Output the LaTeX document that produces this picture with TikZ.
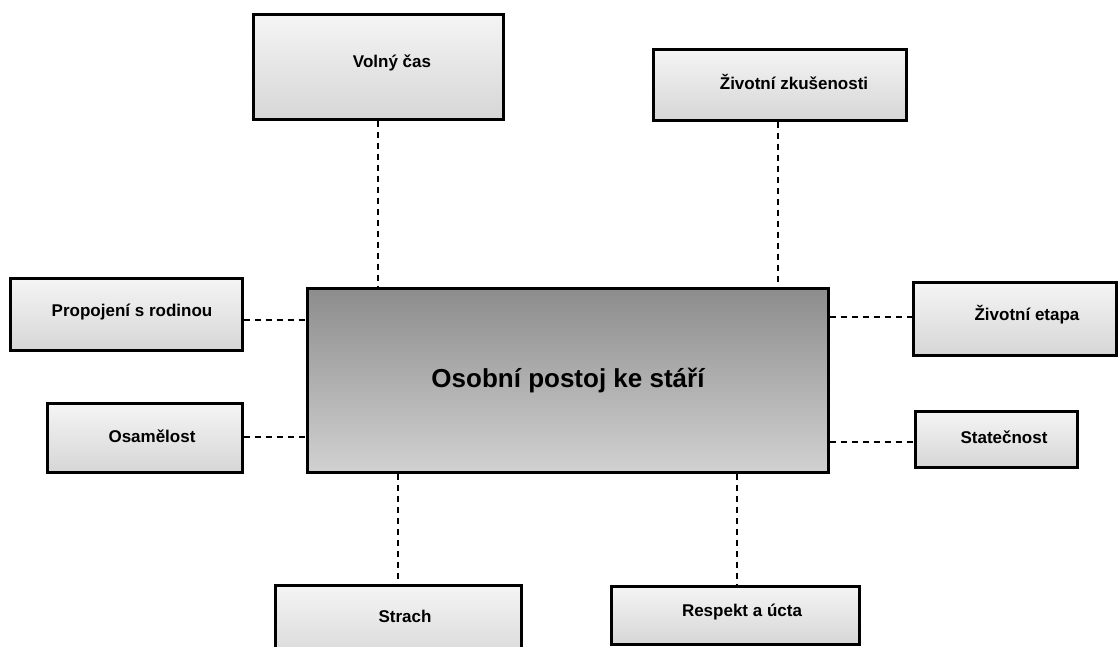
\documentclass[tikz,border=0pt]{standalone}
\usepackage{fontspec}
\setmainfont{Liberation Sans}
\begin{document}
\begin{tikzpicture}[x=1pt,y=-1pt,
  sbox/.style={draw=black, line width=3pt, top color=white!96!black, bottom color=white!84!black, inner sep=0pt},
  mbox/.style={draw=black, line width=3pt, top color=black!45, bottom color=black!18, inner sep=0pt},
  lab/.style={font=\bfseries\fontsize{17}{20}\selectfont, inner sep=0pt},
  mlab/.style={font=\bfseries\fontsize{26}{30}\selectfont, inner sep=0pt},
  conn/.style={draw=black, line width=2.6pt, dash pattern=on 6.5pt off 4.5pt}]
\useasboundingbox (0,0) rectangle (1118,646);
% central
\node[mbox, minimum width=521, minimum height=184] (main) at (567.5,380) {};
\node[mlab] (mt) at (568,380) {Osobní postoj ke stáří};
% boxes
\node[sbox, minimum width=250, minimum height=105] (volny) at (378,66.5) {};
\node[lab] (tvolny) at (392,63) {Volný čas};
\node[sbox, minimum width=253, minimum height=71] (zkus) at (779.5,84.5) {};
\node[lab] (tzkus) at (794,82) {Životní zkušenosti};
\node[sbox, minimum width=232, minimum height=72] (prop) at (126,314) {};
\node[lab] (tprop) at (132,312) {Propojení s rodinou};
\node[sbox, minimum width=195, minimum height=69] (osam) at (144.5,437.5) {};
\node[lab] (tosam) at (152,436) {Osamělost};
\node[sbox, minimum width=203, minimum height=73] (etapa) at (1015,318.5) {};
\node[lab] (tetapa) at (1027,315) {Životní etapa};
\node[sbox, minimum width=162, minimum height=56] (state) at (996,439) {};
\node[lab] (tstate) at (1004,437) {Statečnost};
\node[sbox, minimum width=246, minimum height=80] (strach) at (398,625) {};
\node[lab] (tstrach) at (405,616) {Strach};
\node[sbox, minimum width=248, minimum height=58] (resp) at (735,615) {};
\node[lab] (tresp) at (742,612) {Respekt a úcta};
% connector levels
\coordinate (l1) at (0,320);
\coordinate (l2) at (0,437);
\coordinate (r1) at (0,317);
\coordinate (r2) at (0,442);
\coordinate (b1) at (398,0);
\coordinate (b2) at (737,0);
\coordinate (t1) at (378,0);
\coordinate (t2) at (778,0);
% connectors
\draw[conn] (volny.south -| t1) -- (main.north -| t1);
\draw[conn] (zkus.south -| t2) -- (main.north -| t2);
\draw[conn] (prop.east |- l1) -- (main.west |- l1);
\draw[conn] (osam.east |- l2) -- (main.west |- l2);
\draw[conn] (main.east |- r1) -- (etapa.west |- r1);
\draw[conn] (main.east |- r2) -- (state.west |- r2);
\draw[conn] (main.south -| b1) -- (strach.north -| b1);
\draw[conn] (main.south -| b2) -- (resp.north -| b2);
\end{tikzpicture}
\end{document}
